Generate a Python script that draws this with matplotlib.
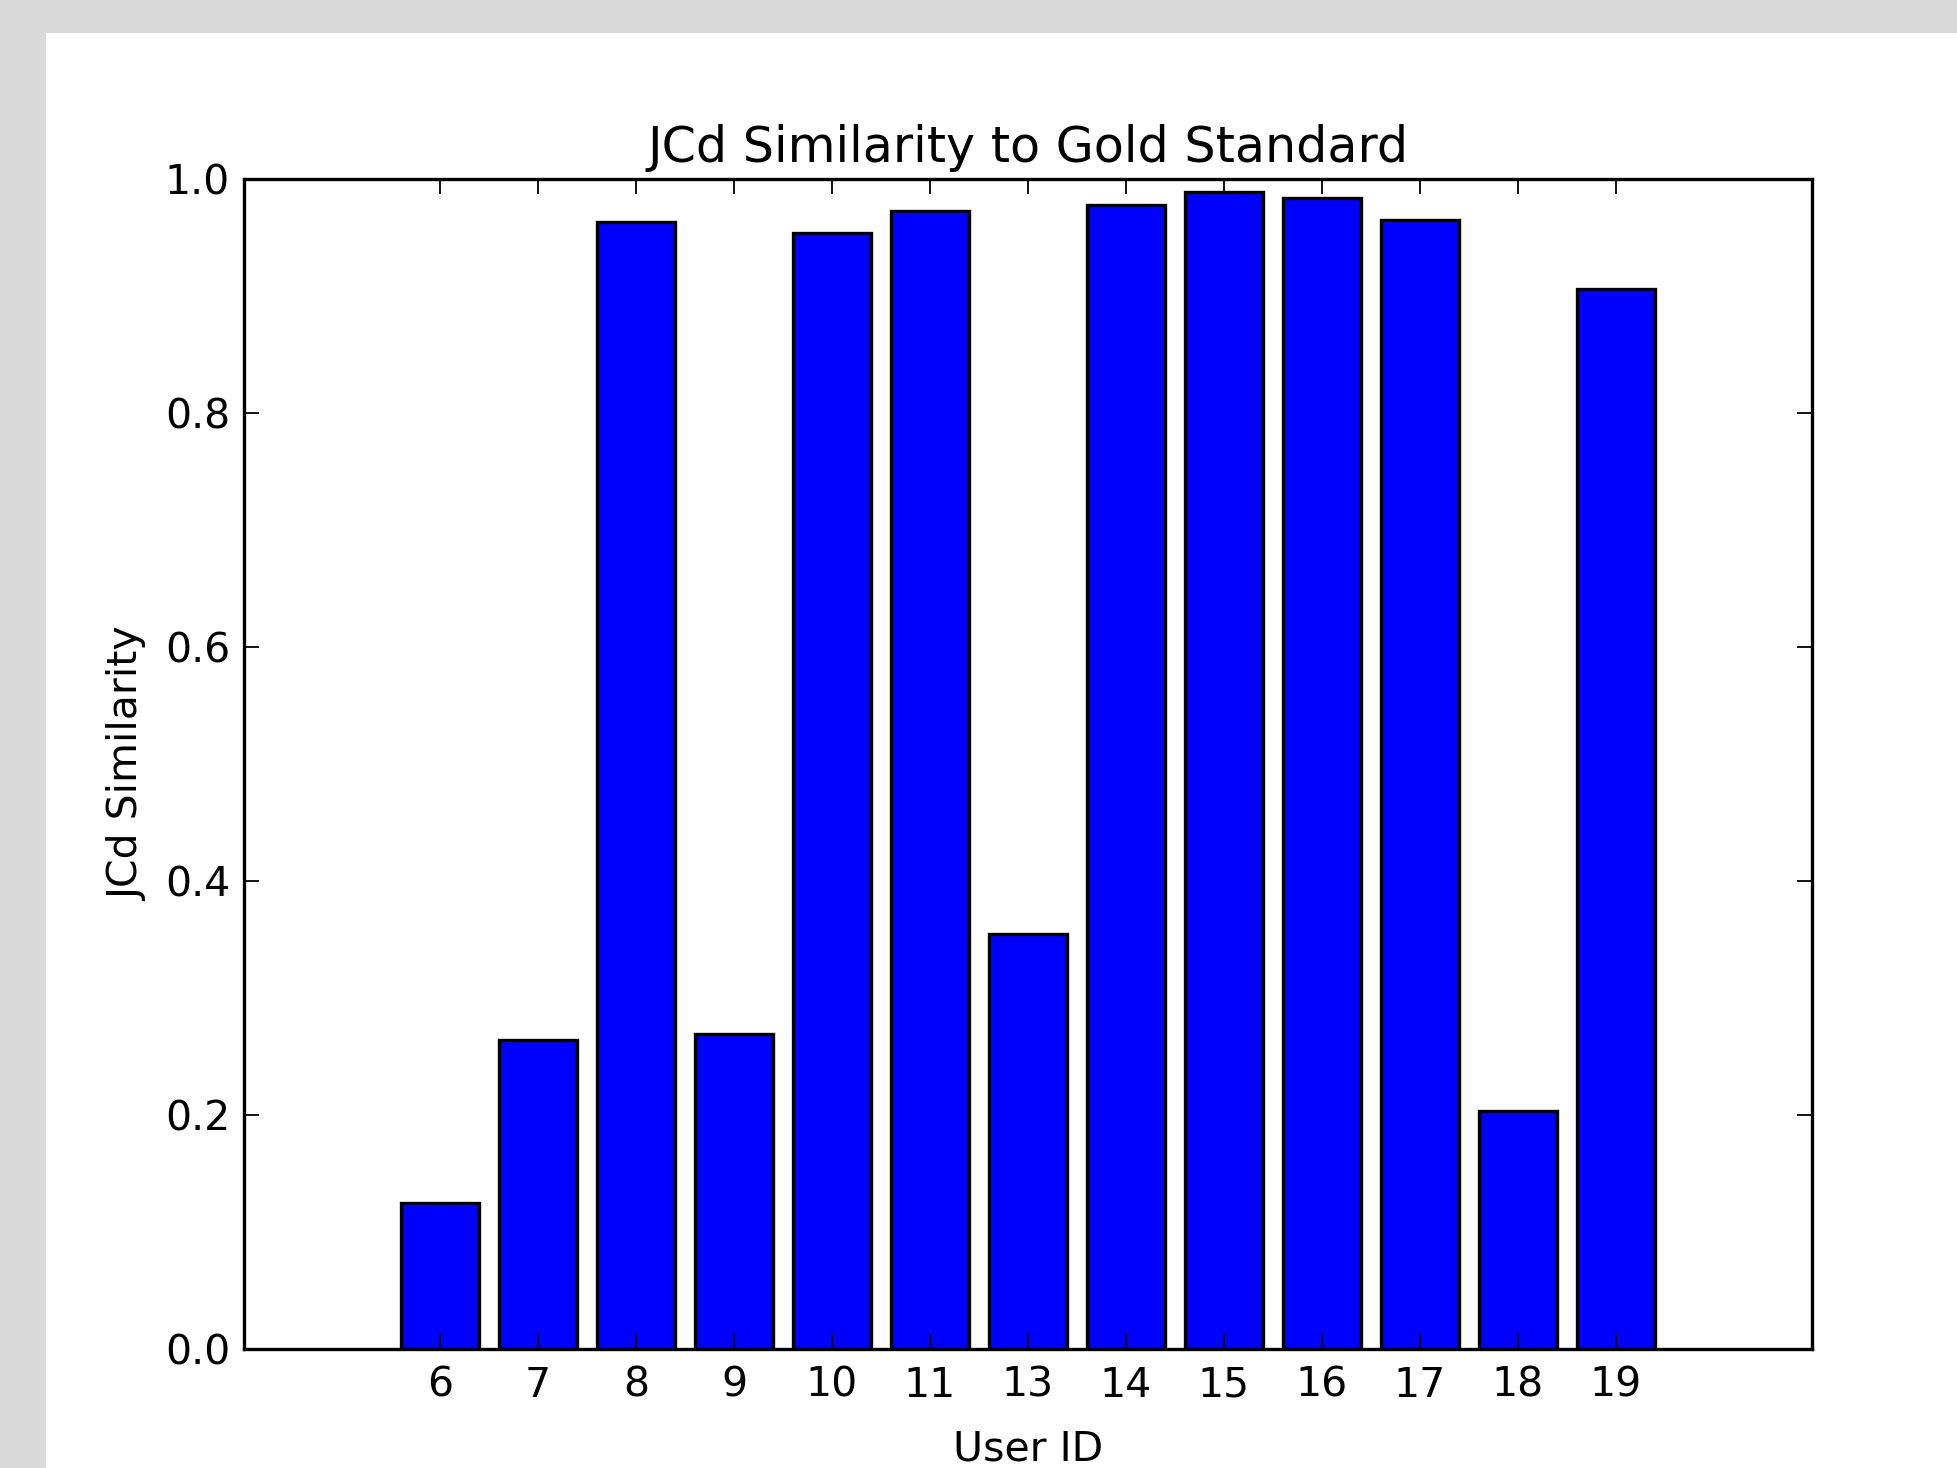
import numpy as np
import matplotlib
matplotlib.use("Agg")
import matplotlib.pyplot as plt
from matplotlib.patches import Rectangle

user_ids = ["6", "7", "8", "9", "10", "11", "13", "14", "15", "16", "17", "18", "19"]
jcd_sim = [0.125, 0.264, 0.963, 0.269, 0.954, 0.973, 0.355, 0.978, 0.989, 0.984, 0.965, 0.203, 0.906]

fig = plt.figure(figsize=(19.58, 14.68), dpi=100, facecolor="#dadada")
# white page area inside the grey frame of the screenshot
fig.patches.append(Rectangle((46 / 1958, 0), 1 - 46 / 1958, 1 - 33 / 1468,
                             transform=fig.transFigure, facecolor="white",
                             edgecolor="none", zorder=-1))

ax = fig.add_axes([244 / 1958, 1 - 1349 / 1468, (1812 - 244) / 1958, (1349 - 179) / 1468])

ind = np.arange(len(user_ids))
ax.bar(ind, jcd_sim, width=0.8, color="#0000ff", edgecolor="black", linewidth=2.4)

ax.set_xlim(-2, len(user_ids) + 1)
ax.set_ylim(0, 1.0)
ax.set_xticks(ind)
ax.set_xticklabels(user_ids)
ax.set_yticks([0.0, 0.2, 0.4, 0.6, 0.8, 1.0])

for s in ax.spines.values():
    s.set_linewidth(2.4)
ax.tick_params(direction="in", length=11, width=1.3, top=True, right=True,
               labelsize=29.5, pad=10)
ax.tick_params(axis="x", pad=12)

ax.set_title("JCd Similarity to Gold Standard", fontsize=35.4, pad=12)
ax.set_xlabel("User ID", fontsize=29.5, labelpad=17)
ax.set_ylabel("JCd Similarity", fontsize=29.5, labelpad=12)

fig.savefig("out.png", dpi=100, facecolor=fig.get_facecolor())
